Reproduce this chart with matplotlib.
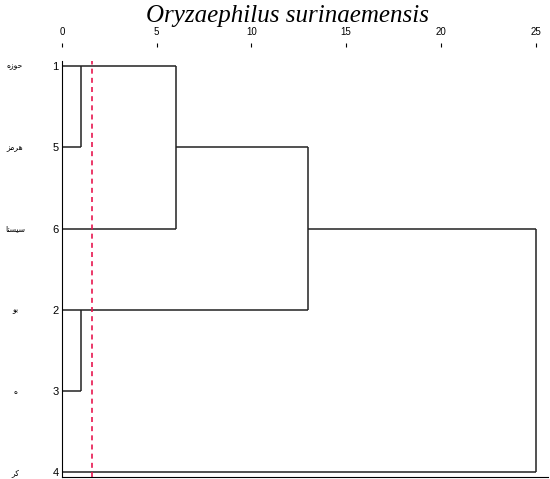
import matplotlib
matplotlib.use("Agg")
import matplotlib.pyplot as plt
import matplotlib.transforms as mtransforms

# leaves, top to bottom
leaf_ids = ["1", "5", "6", "2", "3", "4"]
leaf_names = ["حوزه", "هرمز", "سيستا", "بو", "ه", "كر"]
# merges (scipy style: leaves 0..5, new clusters 6..)
merges = [(0, 1, 1.0), (6, 2, 6.0), (3, 4, 1.0), (7, 8, 13.0), (9, 5, 25.0)]
cut_height = 1.6
x_ticks = [0, 5, 10, 15, 20, 25]

# tiny arabic shaping (presentation forms) so the labels show joined, right to left
FORMS = {  # isolated, final, initial, medial
    "ح": "\uFEA1\uFEA2\uFEA3\uFEA4", "و": "\uFEED\uFEEE", "ز": "\uFEAF\uFEB0",
    "ه": "\uFEE9\uFEEA\uFEEB\uFEEC", "م": "\uFEE1\uFEE2\uFEE3\uFEE4", "ر": "\uFEAD\uFEAE",
    "س": "\uFEB1\uFEB2\uFEB3\uFEB4", "ي": "\uFEF1\uFEF2\uFEF3\uFEF4", "ت": "\uFE95\uFE96\uFE97\uFE98",
    "ا": "\uFE8D\uFE8E", "ب": "\uFE8F\uFE90\uFE91\uFE92", "ك": "\uFED9\uFEDA\uFEDB\uFEDC",
}


def shape(word):
    out = []
    for i, ch in enumerate(word):
        f = FORMS.get(ch)
        if f is None:
            out.append(ch)
            continue
        prev = word[i - 1] if i > 0 else None
        joins_prev = prev is not None and len(FORMS.get(prev, "")) == 4
        joins_next = i + 1 < len(word) and len(f) == 4 and word[i + 1] in FORMS
        if joins_prev and joins_next:
            out.append(f[3])
        elif joins_prev:
            out.append(f[1])
        elif joins_next:
            out.append(f[2])
        else:
            out.append(f[0])
    return "".join(out[::-1])


fig = plt.figure(figsize=(5.5, 4.79), dpi=100)
ax = fig.add_axes([0.1127, 0.0048, 0.8837, 0.8685])

lc = "#222222"
nodes = [(i, 0.0, i, i) for i in range(len(leaf_ids))]  # pos, height, first, last
for a, b, h in merges:
    pa, ha, fa, la = nodes[a]
    pb, hb, fb, lb = nodes[b]
    ax.plot([ha, h], [pa, pa], color=lc, lw=1.1, solid_capstyle="butt")
    ax.plot([hb, h], [pb, pb], color=lc, lw=1.1, solid_capstyle="butt")
    ax.plot([h, h], [pa, pb], color=lc, lw=1.1, solid_capstyle="butt")
    first, last = min(fa, fb), max(la, lb)
    nodes.append(((first + last) // 2, h, first, last))

ax.axvline(cut_height, color="#e8174f", lw=1.2, ls=(0, (3, 2.5)))

ax.set_xlim(0, 25.66)
ax.set_ylim(5.052, -0.065)

ax.spines["right"].set_visible(False)
ax.spines["top"].set_position(("outward", 9.9))
ax.spines["top"].set_color("none")
ax.spines["left"].set_color("black")
ax.spines["bottom"].set_color("black")

ax.xaxis.tick_top()
ax.set_xticks(x_ticks)
ax.tick_params(axis="x", direction="out", length=3, width=0.8, pad=4.5,
               labelsize=7, labelfontfamily="Liberation Sans")
ax.set_yticks(range(len(leaf_ids)))
ax.set_yticklabels(leaf_ids)
ax.tick_params(axis="y", length=0, pad=2.5, labelsize=8, labelfontfamily="Liberation Sans")

trans = mtransforms.blended_transform_factory(fig.transFigure, ax.transData)
for i, name in enumerate(leaf_names):
    ax.text(15 / 550, i, shape(name), transform=trans, ha="center", va="center",
            fontsize=5.5, family="DejaVu Sans")

fig.text(288 / 550, 1 - 22 / 479, "Oryzaephilus surinaemensis", ha="center", va="baseline",
         fontsize=18, style="italic", family="Liberation Serif")

fig.savefig("out.png", dpi=100)
